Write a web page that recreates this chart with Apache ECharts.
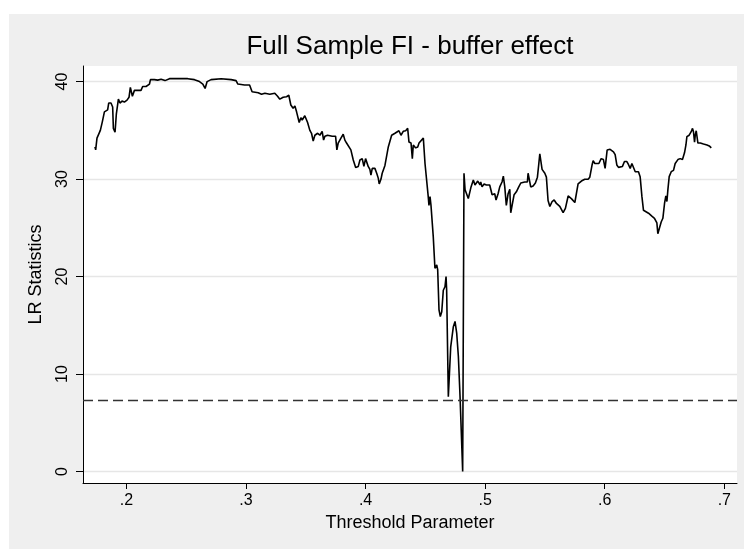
<!DOCTYPE html>
<html>
<head>
<meta charset="utf-8">
<script src="https://cdn.jsdelivr.net/npm/echarts@6/dist/echarts.min.js"></script>
<style>
  html, body { margin: 0; padding: 0; background: #ffffff; }
  #chart { width: 744px; height: 549px; }
</style>
</head>
<body>
<div id="chart"></div>
<script>
// ---- Data ----
const thresholdParam = [
  0.1737,0.1743,0.1754,0.1782,0.1799,0.1816,0.1829,0.1843,0.1852,0.1871,0.1885,0.1891,0.1905,0.1916,0.1933,0.1946,0.1963,0.1983,0.2005,0.2022,0.2033,0.2050,0.2067,0.2095,0.2122,0.2136,0.2164,0.2193,0.2201,0.2234,0.2262,0.2290,0.2323,0.2360,0.2429,0.2513,0.2569,0.2611,0.2639,0.2658,0.2675,0.2708,0.2792,0.2876,0.2917,0.2932,0.2988,0.3030,
  0.3051,0.3102,0.3130,0.3143,0.3158,0.3199,0.3241,0.3264,0.3283,0.3311,0.3339,0.3358,0.3375,0.3394,0.3409,0.3423,0.3445,0.3459,0.3470,0.3492,0.3515,0.3534,0.3548,0.3562,0.3576,0.3599,0.3618,0.3637,0.3649,0.3660,0.3682,0.3721,0.3749,0.3760,0.3771,0.3794,0.3813,0.3827,0.3841,0.3855,0.3877,0.3897,0.3917,0.3939,0.3953,0.3972,0.3986,0.4000,0.4022,0.4036,0.4045,0.4056,0.4078,0.4093,0.4106,0.4114,0.4129,0.4139,0.4162,0.4190,0.4204,0.4218,0.4231,0.4246,0.4260,0.4279,0.4296,0.4315,0.4335,0.4352,
  0.4363,0.4380,0.4391,0.4399,0.4419,0.4436,0.4447,0.4463,0.4483,0.4497,0.4511,0.4524,0.4530,0.4539,0.4547,0.4566,0.4580,0.4595,0.4603,0.4614,0.4625,0.4637,0.4650,0.4664,0.4673,0.4678,0.4692,0.4700,0.4712,0.4734,0.4748,0.4762,0.4776,0.4790,0.4812,0.4823,0.4832,0.4846,0.4859,0.4882,0.4901,0.4915,0.4938,0.4957,
  0.4963,0.4974,0.4991,0.5010,0.5038,0.5047,0.5058,0.5074,0.5080,0.5091,0.5108,0.5122,0.5141,0.5152,0.5164,0.5177,0.5192,0.5206,0.5214,0.5225,0.5242,0.5261,0.5281,0.5298,0.5331,0.5353,0.5359,0.5373,0.5381,0.5401,0.5420,0.5437,0.5448,0.5457,0.5465,0.5476,0.5499,0.5512,0.5526,0.5541,0.5560,0.5577,0.5596,0.5610,0.5624,0.5652,0.5671,0.5694,0.5721,0.5750,0.5763,0.5777,0.5805,0.5819,0.5833,0.5861,0.5875,0.5895,0.5903,0.5917,0.5951,
  0.5970,0.5989,0.6003,0.6012,0.6020,0.6045,0.6073,0.6087,0.6101,0.6115,0.6129,0.6148,0.6165,0.6185,0.6198,0.6213,0.6227,0.6240,0.6255,0.6269,0.6282,0.6296,0.6311,0.6324,0.6338,0.6366,0.6394,0.6416,0.6436,0.6444,0.6455,0.6472,0.6486,0.6500,0.6511,0.6520,0.6528,0.6539,0.6556,0.6575,0.6589,0.6612,0.6631,0.6645,0.6650,0.6667,0.6679,0.6687,0.6706,0.6715,0.6723,0.6734,0.6742,0.6751,0.6757,0.6765,0.6779,0.6799,0.6826,0.6855,0.6874,0.6891
];
const lrStatistic = [
  33.3,33.0,34.2,35.0,35.9,36.9,36.8,37.1,37.8,37.8,37.4,35.2,34.8,36.7,38.2,37.8,38.0,37.9,38.1,38.4,39.4,38.5,39.1,39.1,39.1,39.5,39.5,39.75,40.2,40.2,40.15,40.25,40.1,40.3,40.3,40.3,40.2,40.0,39.75,39.3,40.0,40.2,40.3,40.2,40.1,39.75,39.65,39.65,
  38.96,38.86,38.7,38.6,38.8,38.7,38.8,38.5,38.2,38.4,38.45,38.6,37.6,37.26,37.5,36.9,35.8,36.3,36.06,36.5,35.8,35.0,34.7,33.9,34.5,34.7,34.5,34.9,34.0,34.4,34.5,34.4,34.4,33.0,33.7,34.2,34.6,34.0,33.7,33.8,33.0,31.96,31.2,31.3,31.96,32.1,31.3,32.1,31.3,31.0,30.4,31.1,31.1,30.6,30.1,29.5,30.0,30.6,31.4,33.3,33.5,34.5,34.3,34.7,34.6,34.96,34.5,34.9,34.96,35.2,
  33.8,33.7,32.1,33.5,33.2,33.3,33.7,33.8,34.2,31.6,31.4,28.2,27.3,28.2,27.3,24.1,20.85,21.2,20.7,16.6,15.9,16.4,18.6,18.96,20.0,18.6,7.68,7.5,12.8,14.86,15.4,14.2,11.8,7.7,0.0,30.6,28.9,28.9,28.0,29.2,29.9,29.4,29.8,29.4,
  29.7,29.2,29.5,29.4,29.4,29.2,28.4,28.2,28.5,27.86,28.5,29.2,29.7,30.3,29.2,27.3,28.5,28.96,26.55,26.65,28.4,28.7,29.2,29.6,29.7,29.7,30.6,30.65,29.2,29.3,29.6,30.2,31.5,32.6,32.5,31.0,30.6,30.2,27.8,27.2,27.7,27.86,27.5,27.45,27.2,26.55,27.0,28.27,28.0,27.6,27.5,29.5,29.8,29.6,29.98,29.98,30.2,31.5,31.9,31.6,31.6,
  32.1,32.0,31.1,31.0,32.98,33.06,32.8,32.5,31.45,31.2,31.3,31.3,31.8,31.8,31.5,31.1,31.6,31.5,30.76,30.66,30.76,30.25,28.2,26.8,26.65,26.5,26.2,25.98,25.5,24.4,24.6,25.6,25.98,27.5,28.27,27.7,28.9,30.25,30.76,30.9,31.6,32.0,32.1,32.3,32.0,32.7,33.5,34.35,34.5,34.7,34.86,35.2,34.86,33.8,34.5,34.96,33.7,33.7,33.6,33.5,33.4,33.2
];
const criticalValue = 7.35;
const xTicks = [0.2, 0.3, 0.4, 0.5, 0.6, 0.7];
const yTicks = [0, 10, 20, 30, 40];
const chartTitle = 'Full Sample FI - buffer effect';
const xName = 'Threshold Parameter';
const yName = 'LR Statistics';

const n = Math.min(thresholdParam.length, lrStatistic.length);
const lineData = [];
for (let i = 0; i < n; i++) lineData.push([thresholdParam[i], lrStatistic[i]]);

const FONT = '"Liberation Sans", Arial, Helvetica, sans-serif';
const chart = echarts.init(document.getElementById('chart'), null, { renderer: 'canvas' });
chart.setOption({
  animation: false,
  backgroundColor: '#ffffff',
  textStyle: { fontFamily: FONT },
  graphic: [{
    type: 'rect', z: -100, silent: true,
    left: 9, top: 14,
    shape: { width: 735, height: 535 },
    style: { fill: '#EFEFEF' }
  }],
  title: {
    text: chartTitle,
    left: 410, top: 34, padding: 0,
    textAlign: 'center',
    textStyle: { fontFamily: FONT, fontSize: 26, fontWeight: 'normal', color: '#000' }
  },
  grid: {
    left: 83, right: 7, top: 66, bottom: 66,
    show: true, backgroundColor: '#ffffff', borderWidth: 0
  },
  xAxis: {
    type: 'value',
    min: 0.1637, max: 0.7106,
    name: xName, nameLocation: 'middle', nameGap: 28,
    nameTextStyle: { fontFamily: FONT, fontSize: 18, color: '#000' },
    axisLine: { show: true, onZero: false, lineStyle: { color: '#000', width: 1 } },
    axisTick: { show: true, length: 6, customValues: xTicks, lineStyle: { color: '#000' } },
    axisLabel: {
      customValues: xTicks, margin: 10,
      fontFamily: FONT, fontSize: 16, color: '#000',
      formatter: v => String(v).replace(/^0(?=\.)/, '')
    },
    splitLine: { show: false }
  },
  yAxis: {
    type: 'value',
    min: -1.17, max: 41.6,
    name: yName, nameLocation: 'middle', nameGap: 38, nameRotate: 90,
    nameTextStyle: { fontFamily: FONT, fontSize: 18, color: '#000' },
    axisLine: { show: true, onZero: false, lineStyle: { color: '#000', width: 1 } },
    axisTick: { show: true, length: 7, customValues: yTicks, lineStyle: { color: '#000' } },
    axisLabel: {
      customValues: yTicks, margin: 12, rotate: 90,
      fontFamily: FONT, fontSize: 16, color: '#000'
    },
    splitLine: { show: true, lineStyle: { color: '#E6E6E6', width: 1.3 } }
  },
  series: [{
    type: 'line',
    data: lineData,
    showSymbol: false,
    symbol: 'none',
    lineStyle: { color: '#000', width: 1.6 },
    markLine: {
      silent: true,
      symbol: ['none', 'none'],
      label: { show: false },
      lineStyle: { color: '#333', width: 1.3, type: [10, 5] },
      data: [{ yAxis: criticalValue }]
    }
  }]
});
</script>
</body>
</html>
